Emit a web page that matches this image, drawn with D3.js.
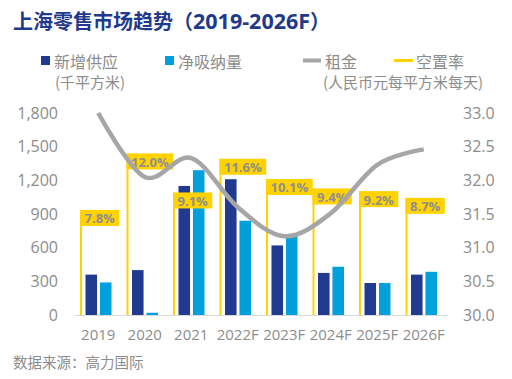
<!DOCTYPE html>
<html><head><meta charset="utf-8">
<script src="https://cdn.jsdelivr.net/npm/d3@7"></script>
<style>body{margin:0;background:#fff}svg{display:block}</style>
</head><body>
<svg id="c" width="512" height="379"></svg>
<script>
const categories = ["2019","2020","2021","2022F","2023F","2024F","2025F","2026F"];
const newSupply = [360, 400, 1150, 1210, 620, 375, 285, 360];
const netAbsorption = [290, 20, 1290, 840, 710, 430, 285, 385];
const rent = [33.0, 32.05, 32.33, 31.6, 31.17, 31.51, 32.23, 32.46];
const vacancy = [7.8, 12.0, 9.1, 11.6, 10.1, 9.4, 9.2, 8.7];
const leftTicks = [0, 300, 600, 900, 1200, 1500, 1800];
const rightTicks = [30.0, 30.5, 31.0, 31.5, 32.0, 32.5, 33.0];

const FONT = "'Open Sans','Noto Sans CJK SC',sans-serif";
const CJK = "'Noto Sans CJK SC','Open Sans',sans-serif";
const GRAY = "#8c8c8c";
const DARK = "#203A8F", LIGHT = "#00A0DC", RENTC = "#A6A6A6", YEL = "#FFD200";

const svg = d3.select("#c");
const x = d3.scaleBand().domain(categories).range([75, 447]).padding(0);
const sub = d3.scaleBand().domain(["s","a"]).range([10.5, 36.5]).paddingInner(0.2);
const yL = d3.scaleLinear().domain([0, 1800]).range([315, 113]);
const yR = d3.scaleLinear().domain([30, 33]).range([315, 113]);
const yV = d3.scaleLinear().domain([0, 15]).range([315, 113]);

// Title
const title = svg.append("text").attr("x", 13).attr("y", 20).attr("dominant-baseline", "central")
  .attr("font-weight", "bold").attr("fill", "#1F3A8C");
title.append("tspan").attr("font-family", CJK).attr("font-size", 20).text("上海零售市场趋势（");
title.append("tspan").attr("font-family", FONT).attr("font-size", 21.5).text("2019-2026F");
title.append("tspan").attr("font-family", CJK).attr("font-size", 20).text("）");

// Legend
const lg = svg.append("g").attr("font-family", CJK).attr("fill", GRAY);
lg.append("rect").attr("x", 41).attr("y", 56).attr("width", 9).attr("height", 9).attr("fill", DARK);
lg.append("text").attr("x", 54).attr("y", 60.5).attr("dominant-baseline", "central").attr("font-size", 16).text("新增供应");
lg.append("text").attr("x", 55).attr("y", 81).attr("dominant-baseline", "central").attr("font-size", 15).text("(千平方米)");
lg.append("rect").attr("x", 165).attr("y", 56).attr("width", 9).attr("height", 9).attr("fill", LIGHT);
lg.append("text").attr("x", 178).attr("y", 60.5).attr("dominant-baseline", "central").attr("font-size", 16).text("净吸纳量");
lg.append("line").attr("x1", 303).attr("x2", 321).attr("y1", 60.5).attr("y2", 60.5).attr("stroke", RENTC).attr("stroke-width", 4);
lg.append("text").attr("x", 325).attr("y", 60.5).attr("dominant-baseline", "central").attr("font-size", 16).text("租金");
lg.append("line").attr("x1", 394).attr("x2", 413).attr("y1", 60.5).attr("y2", 60.5).attr("stroke", YEL).attr("stroke-width", 3);
lg.append("text").attr("x", 416).attr("y", 60.5).attr("dominant-baseline", "central").attr("font-size", 16).text("空置率");
lg.append("text").attr("x", 323).attr("y", 81).attr("dominant-baseline", "central").attr("font-size", 15).text("(人民币元每平方米每天)");

// Left axis
const axL = svg.append("g").attr("transform", "translate(58,0)")
  .call(d3.axisLeft(yL).tickValues(leftTicks).tickSize(0).tickPadding(0).tickFormat(d3.format(",")));
axL.select(".domain").remove();
axL.selectAll("text").attr("font-family", FONT).attr("font-size", 16).attr("fill", GRAY);

// Right axis
const axR = svg.append("g").attr("transform", "translate(463,0)")
  .call(d3.axisRight(yR).tickValues(rightTicks).tickSize(0).tickPadding(0).tickFormat(d3.format(".1f")));
axR.select(".domain").remove();
axR.selectAll("text").attr("font-family", FONT).attr("font-size", 16).attr("fill", GRAY);

// Baseline
svg.append("line").attr("x1", 75).attr("x2", 447).attr("y1", 315.5).attr("y2", 315.5)
  .attr("stroke", "#d9d9d9").attr("stroke-width", 1);

// X axis labels
const axX = svg.append("g").attr("transform", "translate(0,329)")
  .call(d3.axisBottom(x).tickSize(0).tickPadding(0));
axX.select(".domain").remove();
axX.selectAll("text").attr("font-family", FONT).attr("font-size", 15).attr("fill", GRAY);

// Bars
const bg = svg.append("g");
bg.selectAll("rect.s").data(newSupply).join("rect").attr("class", "s")
  .attr("x", (d, i) => x(categories[i]) + sub("s")).attr("width", sub.bandwidth())
  .attr("y", d => yL(d)).attr("height", d => 315 - yL(d)).attr("fill", DARK);
bg.selectAll("rect.a").data(netAbsorption).join("rect").attr("class", "a")
  .attr("x", (d, i) => x(categories[i]) + sub("a")).attr("width", sub.bandwidth())
  .attr("y", d => yL(d)).attr("height", d => 315 - yL(d)).attr("fill", LIGHT);

// Vacancy markers
const vg = svg.append("g");
categories.forEach((c, i) => {
  const lx = x(c) + 5;
  const top = yV(vacancy[i]);
  const g = vg.append("g");
  g.append("rect").attr("x", lx).attr("y", top).attr("width", 2).attr("height", 315 - top).attr("fill", YEL);
  const box = g.append("rect").attr("x", lx).attr("y", top).attr("height", 16).attr("fill", YEL);
  const t = g.append("text").attr("font-family", FONT).attr("font-weight", "bold").attr("font-size", 13)
    .attr("fill", "#8f8f8f").attr("text-anchor", "middle").attr("dominant-baseline", "central")
    .text(vacancy[i].toFixed(1) + "%");
  const w = Math.max(39, t.node().getComputedTextLength() + 9);
  box.attr("width", w);
  t.attr("x", lx + w / 2).attr("y", top + 8.5);
});

// Rent line
const line = d3.line().x((d, i) => x(categories[i]) + x.bandwidth() / 2).y(d => yR(d))
  .curve(d3.curveCardinal.tension(0));
svg.append("path").datum(rent).attr("d", line).attr("fill", "none")
  .attr("stroke", RENTC).attr("stroke-width", 4.5).attr("stroke-linecap", "butt");

// Source
svg.append("text").attr("x", 13).attr("y", 361).attr("dominant-baseline", "central")
  .attr("font-family", CJK).attr("font-size", 14.5).attr("fill", GRAY).text("数据来源：高力国际");
</script>
</body></html>
